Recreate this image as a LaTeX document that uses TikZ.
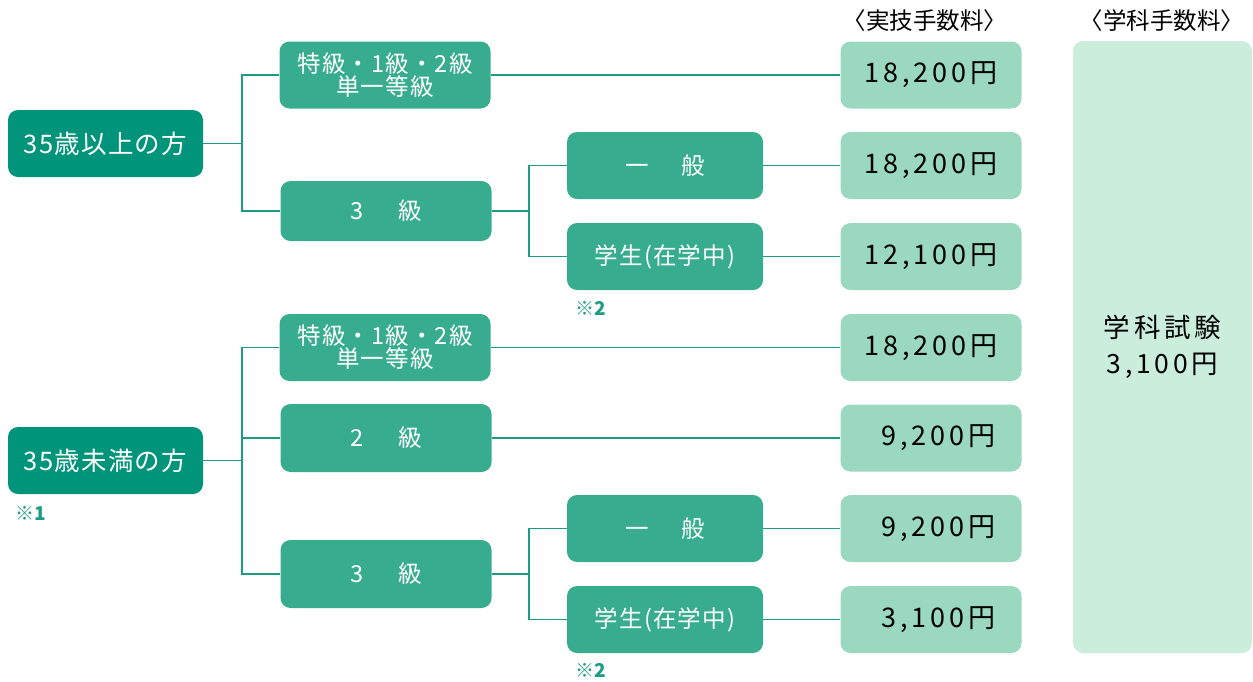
\documentclass[tikz,border=0pt]{standalone}
\usepackage{fontspec}
\setmainfont{Noto Sans CJK JP}
\newfontfamily\valfont[LetterSpace=14]{Noto Sans CJK JP}
\newfontfamily\lblfont[LetterSpace=5]{Noto Sans CJK JP}
\definecolor{dkgreen}{HTML}{00947A}
\definecolor{mdgreen}{HTML}{37AC8F}
\definecolor{ltgreen}{HTML}{9AD8C0}
\definecolor{pagreen}{HTML}{CAEDDC}
\definecolor{linegreen}{HTML}{1C9C82}
\begin{document}
\begin{tikzpicture}[x=1pt,y=-1pt,
  box/.style={rectangle,rounded corners=10pt,inner sep=0pt,align=center},
  topbox/.style={box,fill=dkgreen,text=white,minimum width=195pt,minimum height=67pt,font=\lblfont\fontsize{25.5}{28}\selectfont},
  midbox/.style={box,fill=mdgreen,text=white,minimum width=211pt,font=\lblfont\fontsize{23.5}{25}\selectfont},
  subbox/.style={box,fill=mdgreen,text=white,minimum width=196pt,minimum height=67pt,font=\lblfont\fontsize{23.5}{25}\selectfont},
  valbox/.style={box,fill=ltgreen,text=black,minimum width=181pt,minimum height=67pt,font=\valfont\fontsize{27}{29}\selectfont},
  hdr/.style={inner sep=0pt,font=\fontsize{23.5}{25}\selectfont},
  note/.style={inner sep=0pt,text=linegreen,font=\bfseries\fontsize{19}{21}\selectfont},
  conn/.style={draw=linegreen,line width=1.6pt}]
\useasboundingbox (0,0) rectangle (1253,681);
% headers
\node[hdr] (h1) at (925,21) {〈実技手数料〉};
\node[hdr] (h2) at (1162,21) {〈学科手数料〉};
% level 1
\node[topbox] (a1) at (105.5,143.5) {35歳以上の方};
\node[topbox] (a2) at (105.5,460.5) {35歳未満の方};
\node[note] (n1) at (31,513) {※1};
% level 2
\node[midbox,minimum height=67pt] (b1) at (385,75) {特級・1級・2級\\[-2pt]単一等級};
\node[midbox,minimum height=60pt] (b2) at (386,211) {3\hspace{1.5em}級};
\node[midbox,minimum height=67pt] (b3) at (385,347.5) {特級・1級・2級\\[-2pt]単一等級};
\node[midbox,minimum height=68pt] (b4) at (386,438) {2\hspace{1.5em}級};
\node[midbox,minimum height=68pt] (b5) at (386,574) {3\hspace{1.5em}級};
% level 3
\node[subbox] (c1) at (665,165.5) {一\hspace{1.4em}般};
\node[subbox] (c2) at (665,256.5) {学生(在学中)};
\node[note] (n2) at (591,308) {※2};
\node[subbox] (c3) at (665,528.5) {一\hspace{1.4em}般};
\node[subbox] (c4) at (665,619.5) {学生(在学中)};
\node[note] (n3) at (591,670) {※2};
% values
\node[valbox] (v1) at (931,75) {18,200円};
\node[valbox] (v2) at (931,165.5) {18,200円};
\node[valbox] (v3) at (931,256.5) {12,100円};
\node[valbox] (v4) at (931,347.5) {18,200円};
\node[valbox] (v5) at (931,438) {\hphantom{1}9,200円};
\node[valbox] (v6) at (931,528.5) {\hphantom{1}9,200円};
\node[valbox] (v7) at (931,619.5) {\hphantom{1}3,100円};
% big box
\node[box,fill=pagreen,minimum width=179pt,minimum height=612pt,font=\valfont\fontsize{26.5}{36}\selectfont] (g) at (1162.5,347) {学科試験\\3,100円};
% connectors
\coordinate (j1) at (242,143.5);
\coordinate (j2) at (242,460.5);
\coordinate (k1) at (529,211);
\coordinate (k2) at (529,574);
\draw[conn] (a1.east) -- (j1);
\draw[conn] (b1.west) -| (j1) |- (b2.west);
\draw[conn] (a2.east) -- (j2);
\draw[conn] (b3.west) -| (j2) |- (b5.west);
\draw[conn] (j2 |- b4.west) -- (b4.west);
\draw[conn] (b2.east) -- (k1);
\draw[conn] (c1.west) -| (k1) |- (c2.west);
\draw[conn] (b5.east) -- (k2);
\draw[conn] (c3.west) -| (k2) |- (c4.west);
\draw[conn] (b1.east) -- (v1.west);
\draw[conn] (c1.east) -- (v2.west);
\draw[conn] (c2.east) -- (v3.west);
\draw[conn] (b3.east) -- (v4.west);
\draw[conn] (b4.east) -- (v5.west);
\draw[conn] (c3.east) -- (v6.west);
\draw[conn] (c4.east) -- (v7.west);
\end{tikzpicture}
\end{document}
